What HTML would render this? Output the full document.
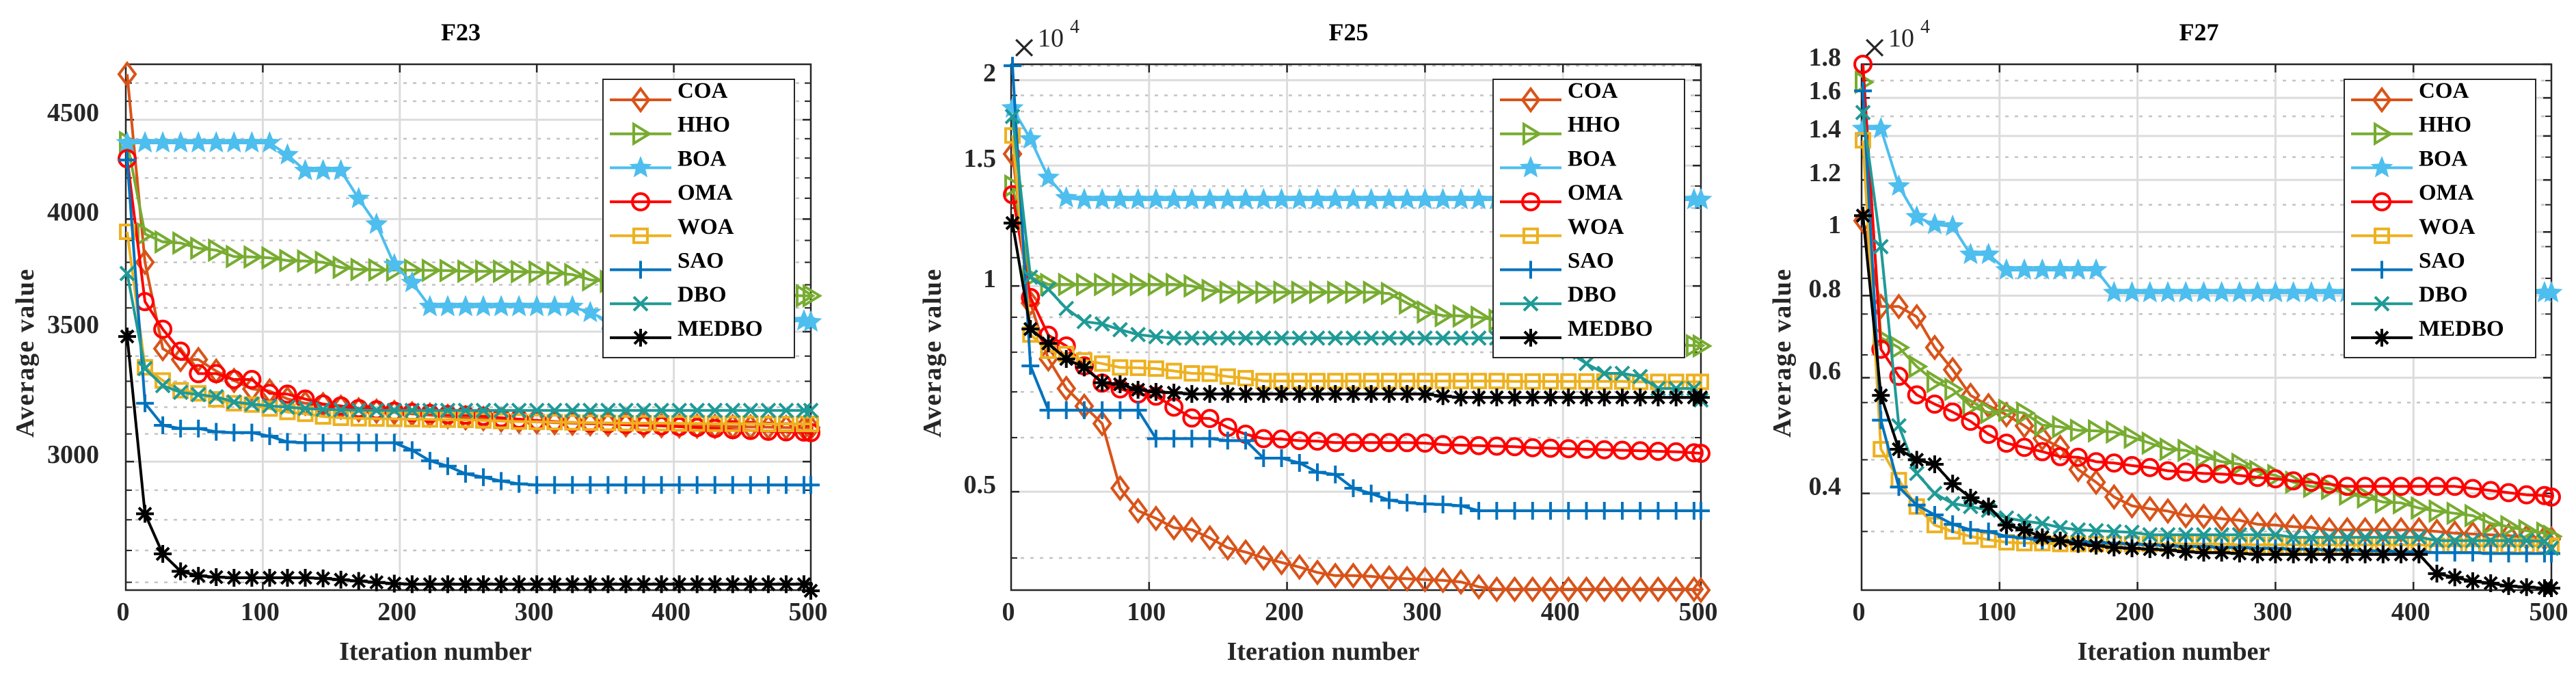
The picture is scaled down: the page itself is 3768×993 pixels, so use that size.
<!DOCTYPE html>
<html><head><meta charset="utf-8"><style>
html,body{margin:0;padding:0;background:#fff;}
svg{display:block;font-family:"Liberation Serif",serif;font-weight:bold;}
</style></head><body>
<svg id="root" width="3768" height="993" viewBox="0 0 3768 993" xmlns="http://www.w3.org/2000/svg"></svg>
<script>
const iters = [];
for (let k = 0; k < 39; k++) iters.push(1 + 13 * k);
iters.push(500);
const seriesNames = ["COA","HHO","BOA","OMA","WOA","SAO","DBO","MEDBO"];
const seriesColors = ["#D95319","#77AC30","#4DBEEE","#FF0000","#EDB120","#0072BD","#1F9A96","#000000"];
const seriesMarkers = ["diamond","tri","star","circle","square","plus","x","ast"];

// F23
const f23_COA=[4750,3800,3430,3386,3386,3340,3303,3270,3262,3232,3215,3210,3200,3190,3185,3180,3175,3170,3165,3160,3157,3152,3148,3145,3142,3140,3138,3136,3134,3132,3131,3130,3129,3128,3127,3126,3125,3124,3123,3123];
const f23_HHO=[4380,3930,3893,3888,3864,3855,3826,3824,3820,3808,3806,3800,3777,3768,3766,3765,3765,3764,3763,3760,3760,3760,3758,3756,3752,3745,3722,3715,3710,3703,3697,3690,3684,3677,3671,3665,3659,3654,3652,3652];
const f23_BOA=[4378,4378,4378,4378,4378,4378,4378,4378,4378,4316,4236,4236,4236,4098,3975,3789,3709,3605,3605,3605,3605,3605,3605,3605,3605,3605,3580,3546,3545,3545,3545,3545,3545,3545,3545,3545,3545,3545,3545,3540];
const f23_OMA=[4297,3627,3510,3420,3330,3330,3307,3307,3253,3250,3231,3212,3205,3195,3190,3185,3180,3176,3172,3170,3166,3160,3155,3150,3146,3143,3140,3138,3135,3132,3130,3127,3124,3120,3116,3113,3110,3108,3107,3105];
const f23_WOA=[3940,3355,3303,3265,3253,3230,3215,3210,3195,3182,3175,3165,3160,3158,3157,3156,3155,3154,3153,3152,3150,3148,3146,3145,3144,3143,3142,3141,3140,3140,3140,3139,3139,3138,3138,3138,3137,3137,3137,3137];
const f23_SAO=[4290,3215,3132,3120,3120,3108,3105,3105,3092,3071,3068,3068,3068,3068,3068,3068,3041,3003,2984,2957,2945,2932,2922,2918,2918,2918,2918,2918,2918,2918,2918,2918,2918,2918,2918,2918,2918,2918,2918,2918];
const f23_DBO=[3750,3350,3283,3257,3248,3240,3220,3212,3205,3200,3195,3192,3190,3189,3188,3188,3188,3188,3188,3188,3188,3188,3188,3188,3188,3188,3188,3188,3188,3188,3188,3188,3188,3188,3188,3188,3188,3188,3188,3188];
const f23_MEDBO=[3480,2820,2689,2634,2620,2616,2614,2614,2614,2614,2614,2612,2608,2604,2600,2596,2594,2594,2594,2594,2594,2594,2594,2594,2594,2594,2594,2594,2594,2594,2594,2594,2594,2594,2594,2594,2594,2594,2594,2574];
// F25 (x10^4)
const f25_COA=[1.56,.944,.782,.708,.667,.629,.506,.469,.457,.443,.440,.428,.414,.408,.400,.394,.388,.381,.377,.377,.376,.374,.373,.372,.371,.369,.363,.360,.360,.360,.360,.360,.360,.360,.360,.360,.360,.360,.360,.359];
const f25_HHO=[1.40,1.03,1.005,1.005,1.005,1.005,1.005,1.005,1.005,1.005,1.0,.985,.979,.979,.979,.979,.979,.979,.979,.979,.979,.975,.944,.916,.905,.904,.900,.891,.88,.87,.86,.85,.845,.84,.835,.83,.825,.82,.818,.817];
const f25_BOA=[1.82,1.64,1.44,1.345,1.337,1.337,1.337,1.337,1.337,1.337,1.337,1.337,1.337,1.337,1.337,1.337,1.337,1.337,1.337,1.337,1.337,1.337,1.337,1.337,1.337,1.337,1.337,1.337,1.337,1.337,1.337,1.337,1.337,1.337,1.337,1.337,1.337,1.337,1.337,1.337];
const f25_OMA=[1.36,.962,.847,.817,.764,.721,.707,.695,.690,.665,.641,.640,.621,.607,.598,.597,.594,.593,.590,.590,.590,.590,.590,.589,.586,.585,.584,.583,.582,.580,.579,.578,.577,.576,.575,.574,.573,.572,.570,.569];
const f25_WOA=[1.66,.849,.804,.795,.778,.770,.760,.759,.757,.751,.745,.744,.737,.733,.726,.726,.726,.726,.726,.726,.726,.726,.726,.726,.726,.726,.726,.726,.725,.725,.725,.725,.725,.725,.725,.724,.724,.724,.724,.724];
const f25_SAO=[2.10,.764,.658,.658,.658,.658,.658,.658,.598,.598,.598,.598,.594,.594,.560,.560,.551,.534,.530,.506,.497,.486,.482,.480,.479,.477,.469,.469,.469,.469,.469,.469,.469,.469,.469,.469,.469,.469,.469,.469];
const f25_DBO=[1.77,1.03,.989,.927,.887,.880,.863,.849,.843,.839,.839,.839,.839,.839,.839,.839,.839,.839,.839,.839,.839,.839,.839,.839,.839,.839,.839,.839,.839,.839,.839,.80,.77,.745,.745,.737,.708,.708,.708,.681];
const f25_MEDBO=[1.236,.865,.824,.782,.760,.722,.718,.705,.700,.698,.695,.695,.695,.695,.695,.695,.695,.695,.695,.695,.695,.695,.695,.695,.690,.687,.687,.687,.687,.687,.687,.687,.687,.687,.687,.687,.687,.687,.687,.687];
// F27 (x10^4)
const f27_COA=[1.04,.77,.77,.743,.667,.617,.564,.544,.527,.507,.485,.470,.435,.416,.395,.383,.379,.376,.370,.369,.366,.364,.359,.358,.356,.355,.352,.352,.352,.352,.352,.352,.350,.348,.347,.346,.345,.343,.342,.341];
const f27_HHO=[1.69,.69,.667,.624,.592,.576,.543,.531,.535,.530,.508,.505,.499,.498,.496,.487,.477,.467,.465,.455,.447,.443,.432,.426,.416,.410,.407,.399,.395,.388,.387,.380,.376,.373,.370,.360,.356,.351,.348,.344];
const f27_BOA=[1.436,1.436,1.174,1.054,1.026,1.02,.924,.924,.875,.875,.875,.875,.875,.875,.808,.808,.808,.808,.808,.808,.808,.808,.808,.808,.808,.808,.808,.808,.808,.808,.808,.808,.808,.808,.808,.808,.808,.808,.808,.808];
const f27_OMA=[1.80,.663,.603,.565,.547,.532,.515,.492,.477,.470,.463,.455,.454,.447,.445,.441,.438,.433,.431,.429,.428,.426,.423,.421,.418,.416,.413,.410,.410,.410,.410,.410,.410,.410,.407,.404,.401,.398,.397,.395];
const f27_WOA=[1.379,.467,.419,.382,.358,.350,.344,.340,.337,.336,.336,.335,.335,.335,.335,.335,.335,.335,.335,.335,.335,.334,.334,.334,.334,.334,.334,.334,.334,.334,.334,.334,.333,.333,.333,.333,.333,.333,.333,.333];
const f27_SAO=[1.64,.517,.409,.384,.371,.359,.352,.350,.344,.342,.339,.339,.338,.337,.336,.335,.334,.333,.332,.332,.331,.331,.330,.330,.329,.329,.328,.328,.327,.327,.326,.326,.325,.325,.325,.324,.324,.324,.324,.324];
const f27_DBO=[1.52,.95,.507,.429,.40,.386,.382,.377,.367,.363,.360,.355,.352,.351,.350,.349,.346,.346,.346,.346,.346,.346,.346,.346,.343,.343,.343,.343,.343,.343,.343,.343,.339,.339,.339,.339,.339,.339,.338,.33];
const f27_MEDBO=[1.059,.564,.467,.450,.443,.414,.394,.382,.358,.352,.343,.339,.335,.333,.331,.330,.329,.328,.326,.325,.325,.324,.323,.323,.323,.323,.323,.323,.323,.323,.323,.323,.302,.298,.294,.292,.289,.288,.287,.287];

const f23_yTicks=[3000,3500,4000,4500];
const f23_yTickLabels=["3000","3500","4000","4500"];
const f25_yTicks=[0.5,1,1.5,2];
const f25_yTickLabels=["0.5","1","1.5","2"];
const f27_yTicks=[0.4,0.6,0.8,1,1.2,1.4,1.6,1.8];
const f27_yTickLabels=["0.4","0.6","0.8","1","1.2","1.4","1.6","1.8"];
const xTicks=[0,100,200,300,400,500];
const xTickLabels=["0","100","200","300","400","500"];

const NS="http://www.w3.org/2000/svg";
const root=document.getElementById('root');
function mk(tag,attrs,parent){const e=document.createElementNS(NS,tag);for(const k in attrs)e.setAttribute(k,attrs[k]);(parent||root).appendChild(e);return e;}

const panels=[
 {id:"f23",title:"F23",x0:184,x1:1186,ymin:2576,ymax:4806,data:[f23_COA,f23_HHO,f23_BOA,f23_OMA,f23_WOA,f23_SAO,f23_DBO,f23_MEDBO],ticks:f23_yTicks,tickLabels:f23_yTickLabels,minor:[],lab:145,legX:882,exp:false,ylabX:36},
 {id:"f25",title:"F25",x0:1479,x1:2488,ymin:0.359,ymax:2.11,data:[f25_COA,f25_HHO,f25_BOA,f25_OMA,f25_WOA,f25_SAO,f25_DBO,f25_MEDBO],ticks:f25_yTicks,tickLabels:f25_yTickLabels,minor:[],lab:1457,legX:2184,exp:true,ylabX:1363},
 {id:"f27",title:"F27",x0:2723,x1:3732,ymin:0.285,ymax:1.80,data:[f27_COA,f27_HHO,f27_BOA,f27_OMA,f27_WOA,f27_SAO,f27_DBO,f27_MEDBO],ticks:f27_yTicks,tickLabels:f27_yTickLabels,minor:[],lab:2693,legX:3429,exp:true,ylabX:2606}
];
for(let v=2600;v<4800;v+=100) if(v%500) panels[0].minor.push(v);
for(let v=4;v<=21;v++) if(v%5) panels[1].minor.push(v/10);
for(let v=6;v<=20;v++) if(v%2) panels[2].minor.push(v/20);
for(let v=11;v<=17;v+=2) panels[2].minor.push(v/10);

const Y0=94,Y1=863;
const SW=4;

function marker(type,x,y,color,g){
  const s={fill:"none",stroke:color,"stroke-width":SW};
  let e;
  if(type==="diamond"){e=mk("polygon",Object.assign({points:`${x},${y-16} ${x+12},${y} ${x},${y+16} ${x-12},${y}`},s),g);}
  else if(type==="tri"){e=mk("polygon",Object.assign({points:`${x-10},${y-14} ${x+13},${y} ${x-10},${y+14}`},s),g);}
  else if(type==="star"){let p=[];for(let i=0;i<10;i++){const r=i%2?7:16;const a=-Math.PI/2+i*Math.PI/5;p.push((x+r*Math.cos(a)).toFixed(1)+","+(y+r*Math.sin(a)).toFixed(1));}
    e=mk("polygon",{points:p.join(" "),fill:color,stroke:color,"stroke-width":1},g);}
  else if(type==="circle"){e=mk("circle",Object.assign({cx:x,cy:y,r:12},s),g);}
  else if(type==="square"){e=mk("rect",Object.assign({x:x-10,y:y-10,width:20,height:20},s),g);}
  else if(type==="plus"){e=mk("path",Object.assign({d:`M${x-13},${y}H${x+13}M${x},${y-13}V${y+13}`},s),g);}
  else if(type==="x"){e=mk("path",Object.assign({d:`M${x-10},${y-10}L${x+10},${y+10}M${x-10},${y+10}L${x+10},${y-10}`},s),g);}
  else {e=mk("path",Object.assign({d:`M${x-13},${y}H${x+13}M${x},${y-13}V${y+13}M${x-9},${y-9}L${x+9},${y+9}M${x-9},${y+9}L${x+9},${y-9}`},s),g);}
  return e;
}

panels.forEach(P=>{
  const g=mk("g",{});
  
  
  const xs=v=>P.x0+(v/500)*(P.x1-P.x0);
  const L=Math.log(P.ymax)-Math.log(P.ymin);
  const ys=v=>Y0+(Math.log(P.ymax)-Math.log(v))/L*(Y1-Y0);
  P.minor.forEach(v=>{const y=ys(v);if(y<Y0+2||y>Y1-2)return;
    const l=mk("line",{x1:P.x0,x2:P.x1,y1:y,y2:y,stroke:"#c4c4c4","stroke-width":2.5,"stroke-dasharray":"5 9"},g);
    
    mk("line",{x1:P.x0,x2:P.x0+9,y1:y,y2:y,stroke:"#262626","stroke-width":2},g);
    mk("line",{x1:P.x1-9,x2:P.x1,y1:y,y2:y,stroke:"#262626","stroke-width":2},g);
  });
  P.ticks.forEach((v,i)=>{const y=ys(v);
    const l=mk("line",{x1:P.x0,x2:P.x1,y1:y,y2:y,stroke:"#dcdcdc","stroke-width":3},g);
    
    mk("line",{x1:P.x0,x2:P.x0+12,y1:y,y2:y,stroke:"#262626","stroke-width":2.5},g);
    mk("line",{x1:P.x1-12,x2:P.x1,y1:y,y2:y,stroke:"#262626","stroke-width":2.5},g);
    const t=mk("text",{x:P.lab,y:y-10,"text-anchor":"end","dominant-baseline":"central","font-size":38,fill:"#262626"},g);
    t.textContent=P.tickLabels[i];
    
  });
  xTicks.forEach((v,i)=>{const x=xs(v);
    if(v>0&&v<500){const l=mk("line",{x1:x,x2:x,y1:Y0,y2:Y1,stroke:"#dcdcdc","stroke-width":3},g);
      
      mk("line",{x1:x,x2:x,y1:Y1-12,y2:Y1,stroke:"#262626","stroke-width":2.5},g);
      mk("line",{x1:x,x2:x,y1:Y0,y2:Y0+12,stroke:"#262626","stroke-width":2.5},g);}
    const t=mk("text",{x:x-4,y:907,"text-anchor":"middle","font-size":38,fill:"#262626"},g);
    t.textContent=xTickLabels[i];
    
  });
  const box=mk("rect",{x:P.x0,y:Y0,width:P.x1-P.x0,height:Y1-Y0,fill:"none",stroke:"#262626","stroke-width":2.5},g);
  
  P.data.forEach((arr,si)=>{
    const sg=mk("g",{},g);
    
    
    const n=Math.min(arr.length,iters.length);
    let d="";
    for(let k=0;k<n;k++){d+=(k?"L":"M")+xs(iters[k]).toFixed(1)+","+ys(arr[k]).toFixed(1);}
    const pl=mk("path",{d:d,fill:"none",stroke:seriesColors[si],"stroke-width":SW,"stroke-linejoin":"round"},sg);
    
    
    for(let k=0;k<n;k++){const m=marker(seriesMarkers[si],xs(iters[k]),ys(arr[k]),seriesColors[si],sg);
      
      }
  });
  const tt=mk("text",{x:(P.x0+P.x1)/2-11,y:59,"text-anchor":"middle","font-size":36,fill:"#000"},g);
  tt.textContent=P.title;
  const xl=mk("text",{x:(P.x0+P.x1)/2-48,y:965,"text-anchor":"middle","font-size":38,fill:"#262626"},g);
  xl.textContent="Iteration number";
  const yl=mk("text",{x:0,y:0,"text-anchor":"middle","font-size":38,fill:"#262626","letter-spacing":"1.5",transform:`translate(${P.ylabX+13},516) rotate(-90)`},g);
  yl.textContent="Average value";
  if(P.exp){
    const ex=mk("text",{x:P.x0+19,y:91,"text-anchor":"middle","font-size":64,"font-weight":"normal",fill:"#262626"},g);
    ex.textContent="×";
    const e1=mk("text",{x:P.x0+58,y:68,"text-anchor":"middle","font-size":38,"font-weight":"normal",fill:"#262626"},g);
    e1.textContent="10";
    const e2=mk("text",{x:P.x0+93,y:48,"text-anchor":"middle","font-size":28,"font-weight":"normal",fill:"#262626"},g);
    e2.textContent="4";
  }
  const lg=mk("g",{},g);
  
  mk("rect",{x:P.legX,y:116,width:280,height:407,fill:"#fff",stroke:"#262626","stroke-width":2},lg);
  seriesNames.forEach((nm,si)=>{
    const cy=146+si*49.7;
    const eg=mk("g",{},lg);
    
    
    mk("line",{x1:P.legX+10,x2:P.legX+100,y1:cy,y2:cy,stroke:seriesColors[si],"stroke-width":SW},eg);
    marker(seriesMarkers[si],P.legX+55,cy,seriesColors[si],eg);
    const t=mk("text",{x:P.legX+109,y:cy-3,"font-size":33,fill:"#000"},eg);
    t.textContent=nm;
  });
});
</script>
</body></html>
